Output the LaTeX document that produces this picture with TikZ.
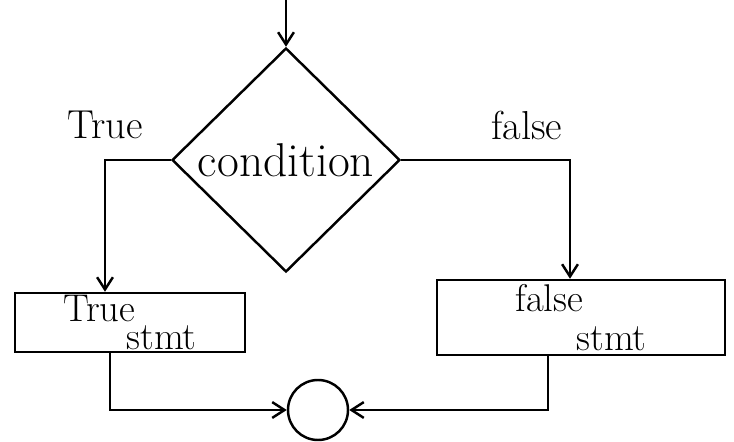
\documentclass[tikz,border=0pt]{standalone}
\usepackage{tikz}
\usetikzlibrary{arrows.meta, shapes.geometric}

\begin{document}
\begin{tikzpicture}[>={Straight Barb[length=7pt, width=9pt]}, line width=1.4pt, every node/.style={align=center}]
      \tikzset{
        decbox/.style={draw, diamond, minimum width=4.56cm, minimum height=4.48cm, inner sep=0pt},
        stmtbox/.style={draw, rectangle, inner sep=0pt, font=\fontsize{22}{16}\selectfont},
        mergept/.style={draw, circle, minimum size=1.2cm, inner sep=0pt},
        lbl/.style={font=\fontsize{23}{26}\selectfont}
      }
      \useasboundingbox (0, 0) rectangle (14.68, 8.82);
      \node[decbox, font=\fontsize{27}{30}\selectfont] (cond) at (5.72, 5.62) {condition};
      \node[stmtbox, minimum width=4.6cm, minimum height=1.18cm, align=left] (tstmt) at (2.6, 2.37) {True\\\hspace*{1.26cm}stmt};
      \node[stmtbox, minimum width=5.76cm, minimum height=1.5cm, align=left] (fstmt) at (11.62, 2.47) {false\\[6pt]\hspace*{1.22cm}stmt};
      \node[mergept] (join) at (6.36, 0.62) {};
      \node[lbl] (tlbl) at (2.1, 6.32) {True};
      \node[lbl] (flbl) at (10.54, 6.32) {false};
      \coordinate (entry) at (5.72, 8.82);
      \coordinate (tcorner) at (2.1, 5.62);
      \coordinate (fcorner) at (11.4, 5.62);
      \coordinate (tdown) at (2.2, 0.62);
      \coordinate (fdown) at (10.96, 0.62);
      \draw[->] (entry) -- (cond.north);
      \draw[->] (cond.west) -- (tcorner) -- (tcorner |- tstmt.north);
      \draw[->] (cond.east) -- (fcorner) -- (fcorner |- fstmt.north);
      \draw[->] (tdown |- tstmt.south) -- (tdown) -- (join.west);
      \draw[->] (fdown |- fstmt.south) -- (fdown) -- (join.east);
    \end{tikzpicture}
\end{document}
